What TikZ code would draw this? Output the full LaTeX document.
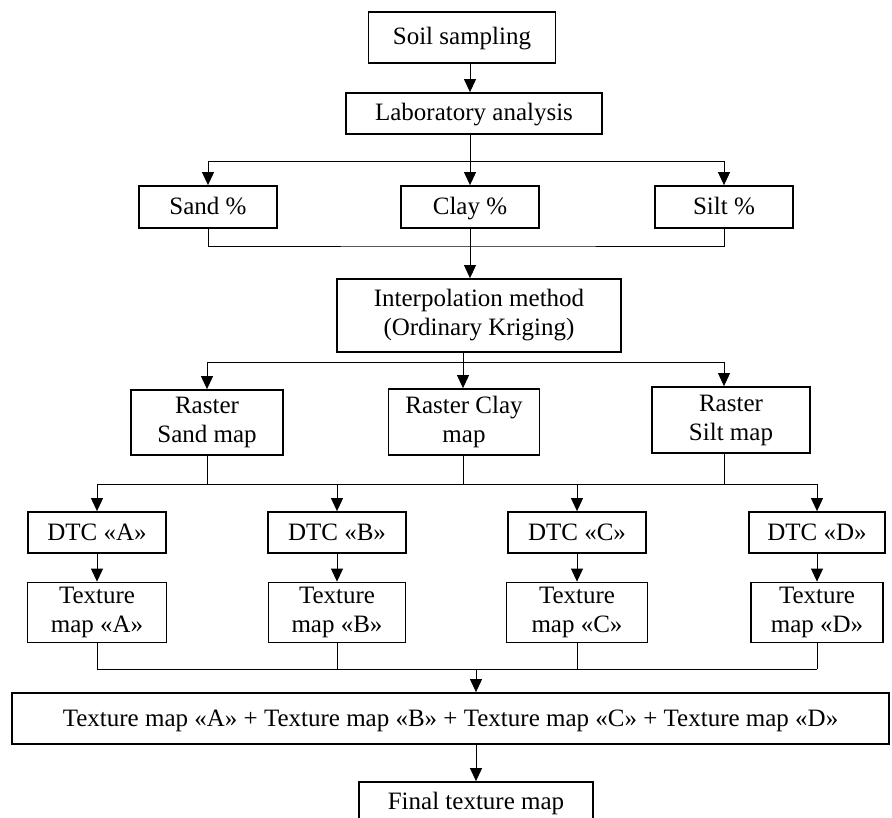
\documentclass[tikz,border=0pt]{standalone}
\usepackage{fontspec}
\setmainfont{Liberation Serif}
\usetikzlibrary{positioning,arrows.meta}

\tikzset{
  box/.style={draw, line width=1.8pt, inner sep=0pt, align=center,
    font=\fontsize{25pt}{29pt}\selectfont},
  oneline/.style={box, text height=19pt, text depth=4pt},
  link/.style={line width=0.9pt},
  arr/.style={link, -{Triangle[length=13pt,width=12pt]}}
}

\begin{document}
\begin{tikzpicture}[x=1pt,y=-1pt,on grid]
  \useasboundingbox (0,0) rectangle (892,818);
  \clip (0,0) rectangle (892,818);

  % top part
  \node[oneline,minimum width=187pt,minimum height=51pt] (soil) at (462,37.5) {Soil sampling};
  \node[oneline,minimum width=256pt,minimum height=41pt] (lab) at (474,113.5) {Laboratory analysis};
  \node[oneline,minimum width=138pt,minimum height=42pt] (clay) at (470,207) {Clay \%};
  \node[oneline,minimum width=138pt,minimum height=42pt] (sand) [left=262pt of clay] {Sand \%};
  \node[oneline,minimum width=138pt,minimum height=42pt] (silt) [right=254pt of clay] {Silt \%};
  \node[box,minimum width=284pt,minimum height=73pt] (interp) at (479,315.5)
    {Interpolation method\\(Ordinary Kriging)};

  % raster maps
  \node[box,minimum width=151pt,minimum height=66pt] (rclay) at (464,422) {Raster Clay\\map};
  \node[box,minimum width=152pt,minimum height=65pt] (rsand) at (207,422.5) {Raster\\Sand map};
  \node[box,minimum width=158pt,minimum height=66pt] (rsilt) at (731,420) {Raster\\Silt map};

  % DTC and texture maps
  \node[oneline,minimum width=138pt,minimum height=41pt] (dtcA) at (97,532.5) {DTC «A»};
  \node[oneline,minimum width=138pt,minimum height=41pt] (dtcB) [right=240pt of dtcA] {DTC «B»};
  \node[oneline,minimum width=138pt,minimum height=41pt] (dtcC) [right=240pt of dtcB] {DTC «C»};
  \node[oneline,minimum width=136pt,minimum height=41pt] (dtcD) [right=240pt of dtcC] {DTC «D»};
  \node[box,minimum width=139pt,minimum height=60pt] (texA) [below=80pt of dtcA] {Texture\\map «A»};
  \node[box,minimum width=137pt,minimum height=60pt] (texB) [below=80pt of dtcB] {Texture\\map «B»};
  \node[box,minimum width=141pt,minimum height=60pt] (texC) [below=80pt of dtcC] {Texture\\map «C»};
  \node[box,minimum width=132pt,minimum height=60pt] (texD) [below=80pt of dtcD] {Texture\\map «D»};

  % bottom part
  \node[oneline,minimum width=877pt,minimum height=51pt] (sum) at (450.5,718.5)
    {Texture map «A» + Texture map «B» + Texture map «C» + Texture map «D»};
  \node[oneline,minimum width=234pt,minimum height=40pt] (final) at (476,802) {Final texture map};

  \coordinate (b1) at (470,161);
  \coordinate (m1) at (470,246);
  \coordinate (b2) at (463,362);
  \coordinate (m2) at (463,484);
  \coordinate (m3) at (476,669);

  \draw[arr] (soil.south -| clay) -- (lab.north -| clay);
  \draw[link] (lab.south -| clay) -- (b1);
  \draw[arr] (b1) -| (sand.north);
  \draw[arr] (b1) -- (clay.north);
  \draw[arr] (b1) -| (silt.north);

  \draw[link] (sand.south) |- (m1) -| (silt.south);
  \draw[arr] (clay.south) -- (interp.north -| clay);

  \draw[link] (interp.south -| b2) -- (b2);
  \draw[arr] (b2) -| (rsand.north);
  \draw[arr] (b2) -- (rclay.north -| b2);
  \draw[arr] (b2) -| (rsilt.north -| silt);

  \draw[link] (rsand.south) -- (rsand.south |- m2);
  \draw[link] (rclay.south -| m2) -- (m2);
  \draw[link] (rsilt.south -| silt) -- (silt |- m2);
  \draw[link] (dtcA.north |- m2) -- (dtcD.north |- m2);
  \foreach \n in {A,B,C,D} {
    \draw[arr] (dtc\n.north |- m2) -- (dtc\n.north);
    \draw[arr] (dtc\n.south) -- (tex\n.north -| dtc\n);
    \draw[link] (tex\n.south -| dtc\n) -- (dtc\n |- m3);
  }
  \draw[link] (dtcA |- m3) -- (dtcD |- m3);
  \draw[arr] (m3) -- (sum.north -| m3);
  \draw[arr] (sum.south -| final) -- (final.north);
\end{tikzpicture}
\end{document}
